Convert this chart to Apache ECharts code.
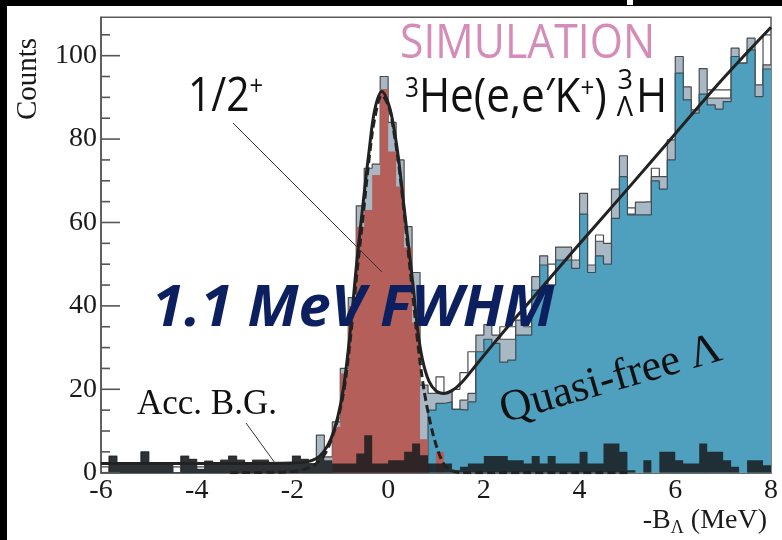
<!DOCTYPE html>
<html>
<head>
<meta charset="utf-8">
<script src="https://cdn.jsdelivr.net/npm/echarts@6/dist/echarts.min.js"></script>
<style>
  html, body { margin: 0; padding: 0; background: #fff; }
  #chart { width: 782px; height: 540px; }
</style>
</head>
<body>
<div id="chart"></div>
<script>
// Missing-mass spectrum of 3He(e,e'K+)3_Lambda H, simulated.
// Histogram bins: 1/6 MeV wide, from -6 to 8 MeV (84 bins).
const xMin = -6;
const xMax = 8;
const binWidth = 1 / 6;
const xTicks = [-6, -4, -2, 0, 2, 4, 6, 8];
const yTicks = [0, 20, 40, 60, 80, 100];
// Tick marks along the count axis (long ones at the labelled values)
const yTickMarks = [0, 5, 10, 15, 20, 25, 30, 35, 40, 45, 50, 55, 60, 65, 70, 75, 80, 85, 90, 95, 100, 105];

// Total counts per bin
const totalCounts = [
  0, 4.0, 2.2, 2.2, 2.2, 5.0, 2.2, 2.2, 2.2, 0,
  4.0, 3.2, 0.8, 2.8, 2.2, 3.0, 4.0, 3.0, 2.2, 3.0,
  3.0, 2.2, 2.2, 2.2, 4.0, 3.2, 2.2, 9.0, 3.8, 12.2,
  25.0, 42.0, 64.0, 73.0, 74.0, 95.0, 84.0, 75.0, 59.0, 48.0,
  21.0, 19.0, 19.0, 19.4, 15.2, 17.4, 19.0, 33.0, 35.5, 33.0,
  32.0, 32.0, 36.6, 35.0, 47.0, 52.0, 45.0, 54.1, 54.1, 51.0,
  67.0, 49.8, 55.5, 55.0, 68.0, 76.0, 62.0, 64.9, 65.0, 71.0,
  71.0, 79.8, 99.8, 92.5, 87.0, 96.9, 89.8, 89.8, 89.8, 101.8,
  98.2, 104.2, 93.0, 97.8
];

// Alternative sample, drawn as an open outline behind the total
const envelopeCounts = [
  1.4, 0, 0, 0, 0, 0, 0, 0, 0, 1.4,
  0, 0, 1.4, 0, 0, 0, 0, 0, 0, 0,
  0, 0, 0, 0, 0, 0, 0, 0, 0, 0,
  0, 0, 0, 0, 0, 0, 0, 0, 0, 0,
  0, 0, 23.0, 0, 20.0, 24.0, 29.0, 0, 0, 0,
  35.0, 35.0, 0, 0, 0, 0, 50.0, 0, 0, 0,
  0, 0, 57.0, 0, 0, 0, 63.5, 0, 0, 73.0,
  0, 0, 0, 0, 0, 0, 91.8, 91.8, 91.8, 0,
  0, 0, 0, 105.0
];

// Quasi-free Lambda production
const quasiFreeCounts = [
  0, 0, 0, 0, 0, 0, 0, 0, 0, 0,
  0, 0, 0, 0, 0, 0, 0, 0, 0, 0,
  0, 0, 0, 0, 0, 0, 0, 0, 0, 0,
  0, 0, 0, 0, 0, 0, 0, 0, 0, 0,
  0, 15.0, 16.6, 17.0, 15.2, 15.0, 17.0, 29.0, 32.0, 31.0,
  26.5, 27.0, 33.0, 33.0, 43.8, 49.8, 45.0, 51.0, 51.0, 49.0,
  62.0, 48.0, 52.0, 50.0, 61.0, 71.0, 61.8, 61.8, 61.8, 70.0,
  68.0, 75.0, 95.8, 89.4, 86.2, 90.8, 88.2, 87.2, 89.0, 99.8,
  98.2, 101.4, 90.2, 96.8
];

// 1/2+ ground state
const peakCounts = [
  0, 0, 0, 0, 0, 0, 0, 0, 0, 0,
  0, 0, 0, 0, 0, 0, 0, 0, 0, 0,
  0, 0, 0, 0, 0, 0, 0, 0, 0, 11.0,
  23.8, 40.0, 59.0, 63.0, 71.4, 92.0, 77.0, 68.6, 54.0, 36.0,
  8.0, 0, 5.0, 0, 0, 0, 0, 0, 0, 0,
  0, 0, 0, 0, 0, 0, 0, 0, 0, 0,
  0, 0, 0, 0, 0, 0, 0, 0, 0, 0,
  0, 0, 0, 0, 0, 0, 0, 0, 0, 0,
  0, 0, 0, 0
];

// Accidental background
const accidentalCounts = [
  0, 4.0, 2.2, 2.2, 2.2, 5.0, 2.2, 2.2, 2.2, 0,
  4.0, 3.2, 0.8, 2.8, 2.2, 3.0, 4.0, 3.0, 2.2, 3.0,
  3.0, 2.2, 2.2, 2.2, 4.0, 3.2, 2.2, 3.8, 3.0, 2.2,
  2.2, 2.2, 4.6, 9.0, 2.2, 2.2, 3.0, 3.0, 5.0, 7.0,
  4.2, 2.2, 2.2, 2.2, 0.6, 1.4, 2.2, 2.2, 4.0, 4.0,
  4.0, 3.0, 3.0, 2.2, 4.0, 2.2, 4.0, 2.2, 2.2, 2.2,
  5.0, 2.2, 2.2, 7.0, 7.0, 5.0, 0.6, 0, 3.0, 0,
  5.0, 5.0, 3.0, 2.2, 2.2, 7.0, 5.0, 5.0, 3.0, 1.4,
  0, 3.0, 3.0, 1.8
];

// Total fit curve: [-B_Lambda (MeV), counts]
const fitTotal = [
  [-6, 2.2], [-5, 2.2], [-4, 2.2], [-3, 2.2], [-2, 2.3], [-1.7, 2.6],
  [-1.5, 3.4], [-1.35, 5.0], [-1.2, 8.0], [-1.05, 13.5], [-0.93, 20.6],
  [-0.8, 33], [-0.66, 50], [-0.52, 65], [-0.4, 77], [-0.28, 87],
  [-0.13, 91.4], [0.02, 88], [0.13, 82], [0.22, 75], [0.32, 65],
  [0.42, 55], [0.52, 45], [0.62, 34], [0.72, 27], [0.85, 22],
  [1.0, 19.6], [1.16, 19.0], [1.35, 19.8], [1.55, 21.8], [1.78, 25],
  [2.1, 29.5], [2.5, 35], [3, 41.6], [4, 54.9], [5, 68], [6, 81.3],
  [7, 94.5], [8, 106.8]
];

// Ground-state peak fit
const fitPeak = [
  [-3.3, 0], [-2.5, 0.1], [-2, 0.3], [-1.7, 1.0], [-1.5, 2.2],
  [-1.35, 4.0], [-1.2, 7.5], [-1.05, 13], [-0.92, 20], [-0.8, 31],
  [-0.66, 47], [-0.52, 62], [-0.4, 75], [-0.28, 85], [-0.13, 90.5],
  [0.02, 87.5], [0.13, 81], [0.22, 74], [0.32, 64], [0.42, 53],
  [0.52, 42], [0.62, 31], [0.72, 22], [0.8, 16.5], [0.9, 11],
  [0.98, 7.5], [1.09, 3.8], [1.2, 1.5], [1.35, 0.4], [1.6, 0], [5, 0]
];

// Step outline points: each bin holds its value from its left edge to the next
function stepPoints(vals) {
  const pts = vals.map((v, k) => [xMin + k * binWidth, v]);
  pts.push([xMax, vals[vals.length - 1]]);
  return pts;
}

const yMax = 109.2;
const serif = '"Liberation Serif", "Times New Roman", serif';
const sans = '"Open Sans", "Noto Sans", sans-serif';
const edge = '#4b4b4b';
const tickColor = '#555';

function histogram(name, vals, fill, stroke, z) {
  return {
    type: 'line', name: name, data: stepPoints(vals), step: 'end',
    symbol: 'none', silent: true, z: z,
    lineStyle: stroke ? { color: stroke, width: 1.2 } : { opacity: 0, width: 0 },
    areaStyle: fill ? { color: fill, opacity: 1 } : undefined
  };
}

const chart = echarts.init(document.getElementById('chart'), null, { renderer: 'canvas' });

chart.setOption({
  animation: false,
  backgroundColor: '#fff',
  grid: {
    left: 101, right: 11, top: 17.3, bottom: 67.3,
    show: true, borderColor: '#5a5a5a', borderWidth: 1.5, backgroundColor: 'transparent'
  },
  xAxis: {
    type: 'value', min: xMin, max: xMax, interval: 2,
    axisLine: { show: true, onZero: false, lineStyle: { color: '#555', width: 1.5 } },
    axisTick: { show: false },
    splitLine: { show: false },
    axisLabel: {
      fontFamily: serif, fontSize: 28, color: '#1a1a1a', margin: 4,
      formatter: v => (xTicks.includes(v) ? String(v) : '')
    }
  },
  yAxis: {
    type: 'value', min: 0, max: yMax, interval: 20, position: 'left',
    axisLine: { show: true, onZero: false, lineStyle: { color: '#555', width: 1.5 } },
    axisTick: { show: false },
    splitLine: { show: false },
    axisLabel: {
      fontFamily: serif, fontSize: 28, color: '#1a1a1a', margin: 4, showMaxLabel: false,
      formatter: v => (yTicks.includes(v) ? String(v) : '')
    }
  },
  series: [
    histogram('envelope', envelopeCounts, null, edge, 2),
    histogram('total', totalCounts, '#a9b8c5', edge, 3),
    histogram('quasi-free', quasiFreeCounts, '#4fa0bf', '#3d4d55', 4),
    histogram('1/2+', peakCounts, '#b45f59', null, 5),
    histogram('accidental', accidentalCounts, 'rgba(24,28,32,0.86)', null, 6),
    {
      type: 'line', name: 'fit', data: fitTotal, smooth: 0.35, symbol: 'none', silent: true, z: 8,
      lineStyle: { color: '#222', width: 3 }
    },
    {
      type: 'line', name: 'peak fit', data: fitPeak, smooth: 0.35, symbol: 'none', silent: true, z: 8,
      lineStyle: { color: '#222', width: 3, type: [8, 4] }
    },
    {
      // inward tick marks on the count axis
      type: 'custom', name: 'y ticks', silent: true, z: 9, clip: false,
      data: yTickMarks.map(v => [xMin, v]),
      encode: { x: 0, y: 1 },
      renderItem: (params, api) => {
        const v = api.value(1);
        const p = api.coord([api.value(0), v]);
        const len = yTicks.includes(v) ? 19 : 9;
        return {
          type: 'line',
          shape: { x1: p[0], y1: p[1], x2: p[0] + len, y2: p[1] },
          style: { stroke: tickColor, lineWidth: 1.6 }
        };
      }
    }
  ],
  graphic: [
    { type: 'rect', z: 200, shape: { x: 0, y: 0, width: 782, height: 6 }, style: { fill: '#000' } },
    { type: 'rect', z: 200, shape: { x: 0, y: 0, width: 7, height: 540 }, style: { fill: '#000' } },
    { type: 'rect', z: 201, shape: { x: 627, y: 0, width: 6, height: 5 }, style: { fill: '#fff' } },

    { type: 'text', z: 150, x: 400, y: 44, scaleX: 0.89,
      style: { text: 'SIMULATION', fontFamily: sans, fontSize: 48, fill: '#d68cb9', align: 'left', verticalAlign: 'middle' } },

    { type: 'text', z: 150, x: 405, y: 99, scaleX: 0.9,
      style: {
        text: '{s|3}He(e,e\u2032K{s|+})', fontFamily: sans, fontSize: 47, fill: '#111',
        align: 'left', verticalAlign: 'middle',
        rich: { s: { fontFamily: sans, fontSize: 27, fill: '#111', verticalAlign: 'top' } }
      } },
    { type: 'text', z: 150, x: 633, y: 81,
      style: { text: '3', fontFamily: sans, fontSize: 27, fill: '#111', align: 'right', verticalAlign: 'middle' } },
    { type: 'text', z: 150, x: 633, y: 108,
      style: { text: '\u039b', fontFamily: sans, fontSize: 27, fill: '#111', align: 'right', verticalAlign: 'middle' } },
    { type: 'text', z: 150, x: 636, y: 99, scaleX: 0.9,
      style: { text: 'H', fontFamily: sans, fontSize: 47, fill: '#111', align: 'left', verticalAlign: 'middle' } },

    { type: 'text', z: 150, x: 188, y: 97, scaleX: 0.85,
      style: {
        text: '1/2{s|+}', fontFamily: sans, fontSize: 48, fill: '#111', align: 'left', verticalAlign: 'middle',
        rich: { s: { fontFamily: sans, fontSize: 28, fill: '#111', verticalAlign: 'top' } }
      } },
    { type: 'line', z: 150, shape: { x1: 233, y1: 123, x2: 382, y2: 272 }, style: { stroke: '#333', lineWidth: 1 } },

    { type: 'text', z: 150, x: 152, y: 309,
      style: { text: '1.1 MeV FWHM', fontFamily: sans, fontSize: 58, fontWeight: 'bold', fontStyle: 'italic',
               fill: '#0c1f5e', align: 'left', verticalAlign: 'middle' } },

    { type: 'text', z: 150, x: 137, y: 405,
      style: { text: 'Acc. B.G.', fontFamily: serif, fontSize: 35, fill: '#111', align: 'left', verticalAlign: 'middle' } },
    { type: 'line', z: 150, shape: { x1: 246, y1: 423, x2: 275, y2: 463 }, style: { stroke: '#333', lineWidth: 1 } },

    { type: 'text', z: 150, x: 611, y: 380, rotation: 0.28,
      style: { text: 'Quasi-free \u039b', fontFamily: serif, fontSize: 44, fill: '#111', align: 'center', verticalAlign: 'middle' } },

    { type: 'text', z: 150, x: 28, y: 79, rotation: Math.PI / 2,
      style: { text: 'Counts', fontFamily: serif, fontSize: 29, fill: '#1a1a1a', align: 'center', verticalAlign: 'middle' } },

    { type: 'text', z: 150, x: 767, y: 521,
      style: {
        text: '-B{sub|\u039b} (MeV)', fontFamily: serif, fontSize: 28, fill: '#1a1a1a', align: 'right', verticalAlign: 'middle',
        rich: { sub: { fontFamily: serif, fontSize: 18, fill: '#1a1a1a', verticalAlign: 'bottom', padding: [14, 0, 0, 0] } }
      } }
  ]
});
</script>
</body>
</html>
